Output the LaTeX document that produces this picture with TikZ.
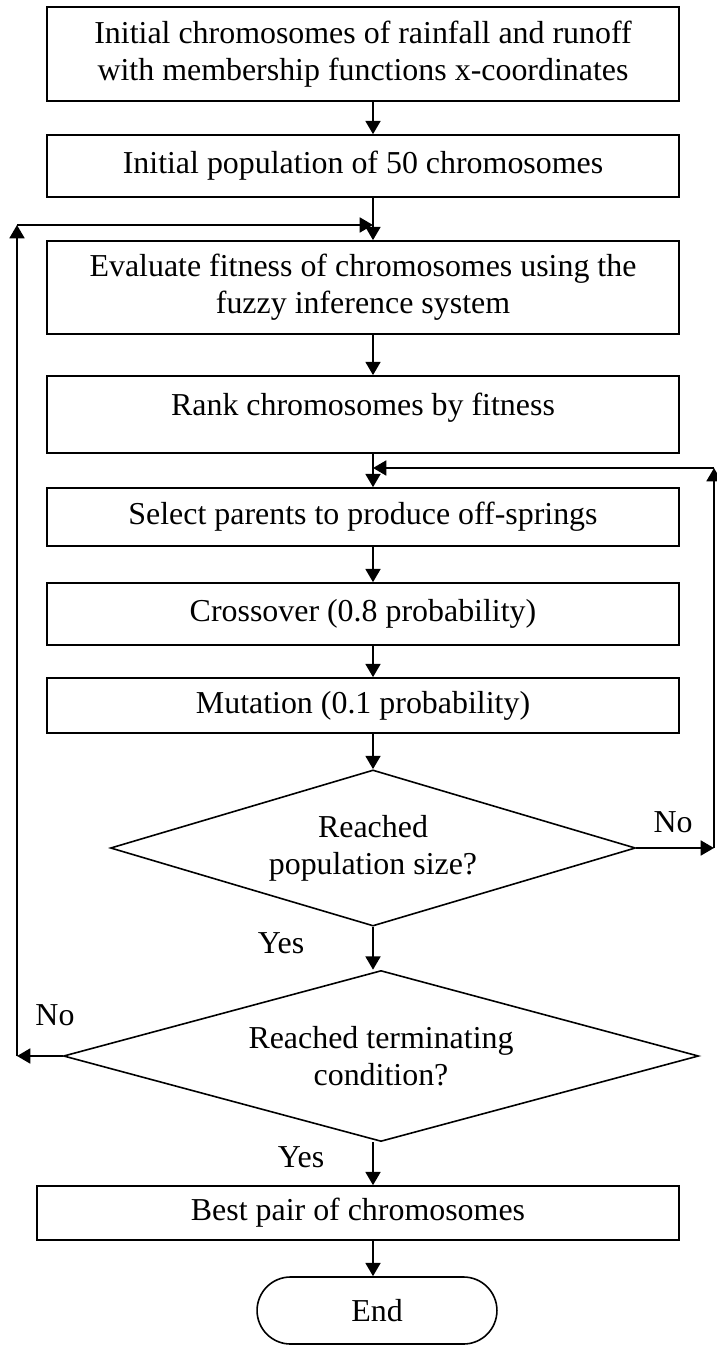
\documentclass[tikz,border=0pt]{standalone}
\usepackage{fontspec}
\setmainfont{Liberation Serif}
\usetikzlibrary{shapes.geometric,arrows.meta}

\begin{document}
\begin{tikzpicture}
[x=0.376pt, y=-0.376pt, font=\fontsize{12}{13.9}\selectfont,
box/.style={draw, line width=0.6pt, align=center, minimum width=237.6pt, inner sep=0pt},
decision/.style={draw, diamond, line width=0.6pt, align=center, inner sep=0pt},
term/.style={draw, line width=0.6pt, rounded corners=12.6pt, minimum width=90.2pt, minimum height=25.2pt, inner sep=0pt},
arr/.style={-{Triangle[length=5pt,width=5.6pt]}, line width=0.8pt},
lbl/.style={inner sep=0pt}]
\useasboundingbox (0,0) rectangle (716,1346);
\coordinate (spine) at (373,0);
\node[box, minimum height=35.3pt] (b1) at (363,54) {Initial chromosomes of rainfall and runoff\\with membership functions x-coordinates};
\node[box, minimum height=23.3pt] (b2) at (363,166) {Initial population of 50 chromosomes};
\node[box, minimum height=35pt] (b3) at (363,287.5) {Evaluate fitness of chromosomes using the\\fuzzy inference system};
\node[box, minimum height=29pt, text depth=8pt] (b4) at (363,414.5) {Rank chromosomes by fitness};
\node[box, minimum height=21.8pt] (b5) at (363,517) {Select parents to produce off-springs};
\node[box, minimum height=23.3pt] (b6) at (363,614) {Crossover (0.8 probability)};
\node[box, minimum height=20.7pt] (b7) at (363,705.5) {Mutation (0.1 probability)};
\node[decision, minimum width=197.4pt, minimum height=58.7pt, aspect=3.36] (d1) at (373,848) {Reached\\population size?};
\node[decision, minimum width=238.8pt, minimum height=64.3pt, aspect=3.7] (d2) at (381,1056) {Reached terminating\\condition?};
\node[box, minimum width=241.4pt, minimum height=20.3pt] (b8) at (358,1213) {Best pair of chromosomes};
\node[term] (stop) at (377,1310.5) {End};
\node[lbl] (yes1) at (281,943) {Yes};
\node[lbl] (no1) at (673,822) {No};
\node[lbl] (no2) at (55,1015) {No};
\node[lbl] (yes2) at (301,1157) {Yes};
\coordinate (rbot) at (714,848);
\coordinate (rtop) at (714,468);
\coordinate (lbot) at (17,1056);
\coordinate (ltop) at (17,225);
\draw[arr] (b1.south -| spine) -- (b2.north -| spine);
\draw[arr] (b2.south -| spine) -- (b3.north -| spine);
\draw[arr] (b3.south -| spine) -- (b4.north -| spine);
\draw[arr] (b4.south -| spine) -- (b5.north -| spine);
\draw[arr] (b5.south -| spine) -- (b6.north -| spine);
\draw[arr] (b6.south -| spine) -- (b7.north -| spine);
\draw[arr] (b7.south -| spine) -- (d1.north);
\draw[arr] (d1.south) -- (d2.north -| spine);
\draw[arr] (d2.south -| spine) -- (b8.north -| spine);
\draw[arr] (b8.south -| spine) -- (stop.north -| spine);
\draw[arr] (d1.east) -- (rbot);
\draw[arr] (rbot) -- (rtop);
\draw[arr] (rtop) -- (rtop -| spine);
\draw[arr] (d2.west) -- (lbot);
\draw[arr] (lbot) -- (ltop);
\draw[arr] (ltop) -- (ltop -| spine);
\end{tikzpicture}
\end{document}
